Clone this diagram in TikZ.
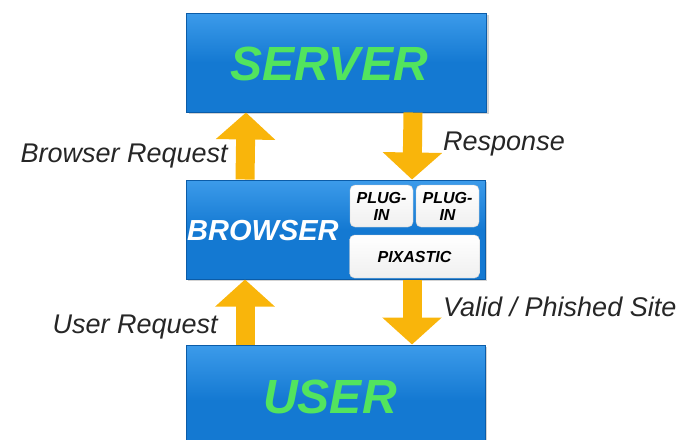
\documentclass[tikz,border=0pt]{standalone}
\usepackage{fontspec}
\setmainfont{Liberation Sans}
\usetikzlibrary{arrows.meta,shadows}
\definecolor{boxblue}{HTML}{1479D2}
\definecolor{boxtop}{HTML}{3C9BEA}
\definecolor{boxedge}{HTML}{0B5CA8}
\definecolor{txtgreen}{HTML}{52E45E}
\definecolor{arrowgold}{HTML}{F9B50B}
\definecolor{lblgray}{HTML}{262626}
\tikzset{
  tier/.style={rectangle, draw=boxedge, line width=1pt, top color=boxtop, bottom color=boxblue,
    middle color=boxblue, minimum width=300pt, minimum height=99pt, inner sep=0pt,
    drop shadow={shadow xshift=2pt, shadow yshift=-2pt, opacity=0.35}},
  tiertext/.style={font=\fontsize{48}{48}\selectfont\bfseries\itshape, text=txtgreen},
  plugbox/.style={rectangle, rounded corners=5pt, draw=gray!40, top color=white, bottom color=gray!12,
    inner sep=0pt, font=\fontsize{16}{17}\selectfont\bfseries\itshape, align=center},
  flow/.style={draw=arrowgold, line width=19pt, -{Triangle[width=58pt,length=27pt]}},
  lbl/.style={font=\fontsize{27}{27}\selectfont\itshape, text=lblgray, inner sep=0pt}
}
\begin{document}
\begin{tikzpicture}[x=1pt,y=-1pt]
  \useasboundingbox (0,0) rectangle (676,439);
  \clip (0,0) rectangle (676,439);
  % the three tiers
  \node[tier] (server) at (336.5,62.5) {};
  \node[tier, minimum width=299pt] (browser) at (335.5,229.5) {};
  \node[tier, minimum width=299pt, minimum height=110pt] (user) at (335.5,400) {};
  \node[tiertext, anchor=base] (servertxt) at (329,80) {SERVER};
  \node[tiertext, anchor=base] (usertxt) at (330,413) {USER};
  \node[tiertext, text=white, font=\fontsize{29}{29}\selectfont\bfseries\itshape,
    anchor=base west, inner sep=0pt] (browsertxt) at (187,240) {BROWSER};
  % add-ons inside the browser
  \node[plugbox, minimum width=63pt, minimum height=42pt] (plugA) at (381.5,206)
    {PLUG-\\IN};
  \node[plugbox, minimum width=63pt, minimum height=42pt] (plugB) at (447.5,206)
    {PLUG-\\IN};
  \node[plugbox, minimum width=130pt, minimum height=43pt] (pixastic) at (414.5,256.5)
    {PIXASTIC};
  % requests and replies
  \draw[flow] ([xshift=-90.5pt]browser.north) -- ([xshift=-90.5pt]server.south);
  \draw[flow] ([xshift=76.5pt]server.south) -- ([xshift=76.5pt]browser.north);
  \draw[flow] ([xshift=-90.5pt]user.north) -- ([xshift=-90.5pt]browser.south);
  \draw[flow] ([xshift=76.5pt]browser.south) -- ([xshift=76.5pt]user.north);
  \node[lbl, anchor=base east] (breq) at (228,162) {Browser Request};
  \node[lbl, anchor=base west] (resp) at (443,150) {Response};
  \node[lbl, anchor=base east] (ureq) at (218,333) {User Request};
  \node[lbl, anchor=base west] (valid) at (443,316) {Valid / Phished Site};
\end{tikzpicture}
\end{document}
